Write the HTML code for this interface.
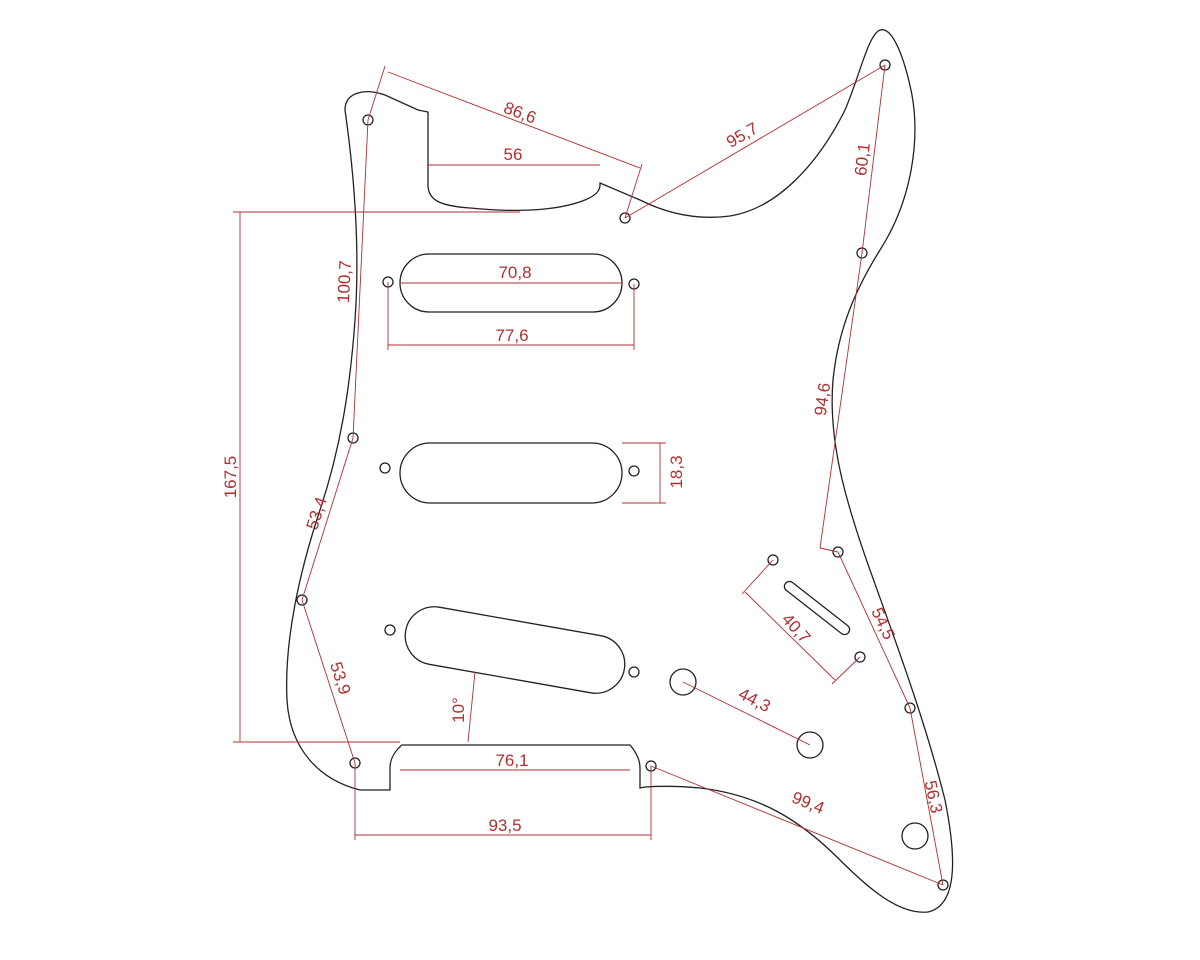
<!DOCTYPE html>
<html><head><meta charset="utf-8"><style>
html,body{margin:0;padding:0;background:#fff;}
svg{display:block;}
text{font-family:"Liberation Sans",sans-serif;font-size:17px;fill:#b03030;}
</style></head><body>
<svg width="1200" height="960" viewBox="0 0 1200 960" xmlns="http://www.w3.org/2000/svg">
<g fill="none" stroke="#222" stroke-width="1.3">
<path d="M345,110 C345,92 365,88 385,95 L418,110 L428,112 L428,185 C428,200 440,206 470,208 C510,212 555,212 585,200 C597,195 600,190 600,185 L600,183 L640,200 C670,215 700,220 730,216 C780,208 820,160 845,110 C860,75 868,35 880,30 C893,26 905,60 912,95 C920,140 912,200 880,250 C855,290 838,330 833,380 C828,440 845,500 870,570 C895,640 925,720 945,800 C955,850 960,905 928,912 C900,915 870,890 840,860 C800,820 760,795 700,788 C680,786 660,786 645,787 L645,787 L640,788 L640,768 C640,760 636,752 630,745 L402,745 C396,750 390,758 390,768 L390,790 L360,790 C320,780 290,750 287,700 C284,640 300,570 320,510 C340,450 350,390 355,320 C360,250 355,180 345,110 Z"/>
<rect x="400" y="254" width="222" height="58" rx="29"/>
<rect x="400" y="443" width="222" height="60" rx="30"/>
<rect x="404" y="621" width="222" height="58" rx="29" transform="rotate(10 515 650)"/>
<rect x="777" y="603" width="80" height="10" rx="5" transform="rotate(38 817 608)"/>
<circle cx="368" cy="120" r="5"/><circle cx="625" cy="218" r="5"/><circle cx="885" cy="65" r="5"/>
<circle cx="862" cy="253" r="5"/><circle cx="388" cy="282" r="5"/><circle cx="634" cy="284" r="5"/>
<circle cx="353" cy="438" r="5"/><circle cx="385" cy="468" r="5"/><circle cx="634" cy="471" r="5"/>
<circle cx="838" cy="552" r="5"/><circle cx="773" cy="560" r="5"/><circle cx="860" cy="657" r="5"/>
<circle cx="302" cy="600" r="5"/><circle cx="390" cy="630" r="5"/><circle cx="634" cy="672" r="5"/>
<circle cx="910" cy="708" r="5"/><circle cx="355" cy="763" r="5"/><circle cx="651" cy="766" r="5"/>
<circle cx="943" cy="885" r="5"/>
<circle cx="683" cy="682" r="13"/><circle cx="810" cy="745" r="13"/><circle cx="915" cy="836" r="13"/>
</g>
<g stroke="#b03030" stroke-width="0.9" fill="none">
<line x1="388" y1="72" x2="640" y2="168"/><line x1="368" y1="120" x2="385" y2="66"/><line x1="625" y1="218" x2="642" y2="164"/>
<line x1="428" y1="165" x2="600" y2="165"/>
<line x1="625" y1="218" x2="885" y2="65"/>
<line x1="885" y1="65" x2="862" y2="253"/>
<line x1="240" y1="212" x2="240" y2="742"/><line x1="233" y1="212" x2="520" y2="212"/><line x1="233" y1="742" x2="400" y2="742"/>
<line x1="368" y1="120" x2="353" y2="438"/>
<line x1="400" y1="283" x2="622" y2="283"/>
<line x1="388" y1="345" x2="634" y2="345"/><line x1="388" y1="282" x2="388" y2="350"/><line x1="634" y1="284" x2="634" y2="350"/>
<line x1="660" y1="443" x2="660" y2="503"/><line x1="622" y1="443" x2="666" y2="443"/><line x1="622" y1="503" x2="666" y2="503"/>
<line x1="862" y1="253" x2="820" y2="548"/><line x1="820" y1="548" x2="838" y2="552"/>
<line x1="353" y1="438" x2="302" y2="600"/>
<line x1="302" y1="600" x2="355" y2="763"/>
<line x1="468" y1="742" x2="475" y2="672"/>
<line x1="400" y1="770" x2="630" y2="770"/>
<line x1="355" y1="835" x2="651" y2="835"/><line x1="355" y1="763" x2="355" y2="840"/><line x1="651" y1="766" x2="651" y2="840"/>
<line x1="651" y1="766" x2="943" y2="885"/>
<line x1="910" y1="708" x2="943" y2="885"/>
<line x1="838" y1="552" x2="910" y2="708"/>
<line x1="745" y1="592" x2="835" y2="680"/><line x1="773" y1="560" x2="742" y2="594"/><line x1="860" y1="657" x2="832" y2="684"/>
<line x1="683" y1="682" x2="810" y2="745"/>
</g>
<text x="518" y="118" text-anchor="middle" transform="rotate(21 518 118)">86,6</text>
<text x="513" y="160" text-anchor="middle">56</text>
<text x="745" y="140" text-anchor="middle" transform="rotate(-30 745 140)">95,7</text>
<text x="868" y="160" text-anchor="middle" transform="rotate(-83 868 160)">60,1</text>
<text x="236" y="477" text-anchor="middle" transform="rotate(-90 236 477)">167,5</text>
<text x="350" y="282" text-anchor="middle" transform="rotate(-87 350 282)">100,7</text>
<text x="515" y="278" text-anchor="middle">70,8</text>
<text x="512" y="341" text-anchor="middle">77,6</text>
<text x="682" y="472" text-anchor="middle" transform="rotate(-90 682 472)">18,3</text>
<text x="828" y="400" text-anchor="middle" transform="rotate(-82 828 400)">94,6</text>
<text x="322" y="515" text-anchor="middle" transform="rotate(-72 322 515)">53,4</text>
<text x="335" y="680" text-anchor="middle" transform="rotate(72 335 680)">53,9</text>
<text x="464" y="710" text-anchor="middle" transform="rotate(-90 464 710)">10°</text>
<text x="512" y="766" text-anchor="middle">76,1</text>
<text x="505" y="831" text-anchor="middle">93,5</text>
<text x="806" y="808" text-anchor="middle" transform="rotate(22 806 808)">99,4</text>
<text x="928" y="798" text-anchor="middle" transform="rotate(78 928 798)">56,3</text>
<text x="878" y="626" text-anchor="middle" transform="rotate(65 878 626)">54,5</text>
<text x="792" y="632" text-anchor="middle" transform="rotate(48 792 632)">40,7</text>
<text x="752" y="705" text-anchor="middle" transform="rotate(27 752 705)">44,3</text>
</svg>
</body></html>
